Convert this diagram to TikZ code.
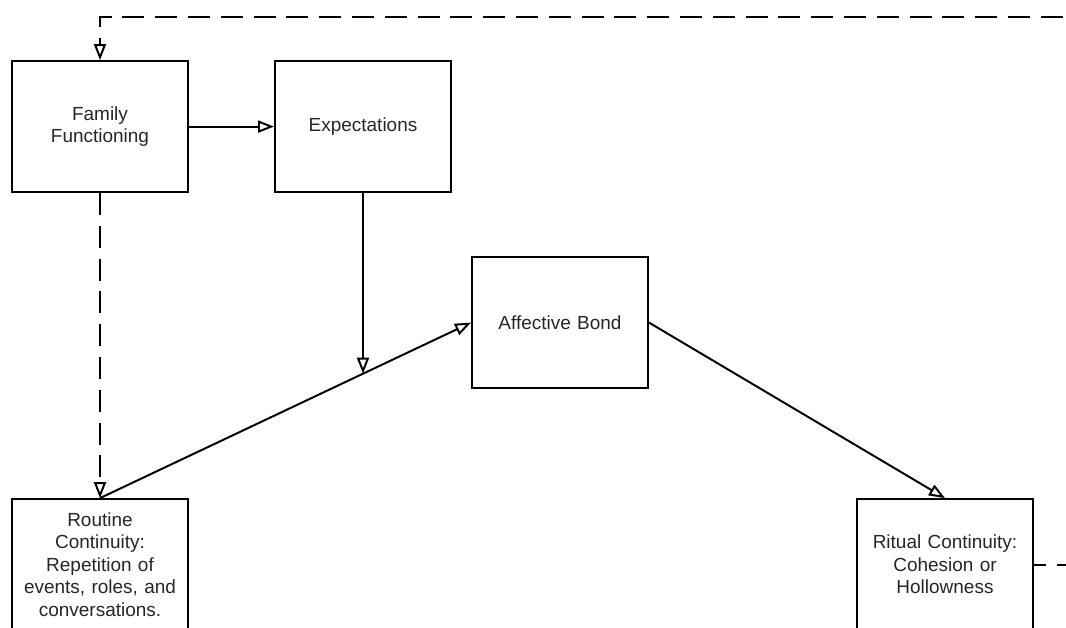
\documentclass[tikz,border=0pt]{standalone}
\usepackage{fontspec}
\setmainfont{Liberation Sans}
\usetikzlibrary{positioning,arrows.meta}

\begin{document}
\begin{tikzpicture}[node distance=2cm,on grid,
    block/.style={draw,line width=1.4pt,rectangle,align=center,text width=4cm,
        inner xsep=0.2cm,inner ysep=0pt,minimum height=3.275cm,
        font=\fontsize{13.5}{16}\selectfont,text=black!85},
    link/.style={line width=1.4pt,-{Triangle[open,length=0.4cm,width=0.3cm]}},
    feedback/.style={link,dash pattern=on 0.55cm off 0.27cm}]
    \useasboundingbox (0,0) rectangle (26.65,15.675);
    \clip (0,0) rectangle (26.65,15.675);

        \node[block] (fam) at (2.5,12.51) {Family\\Functioning};
        \node[block] (exp) [right=6.575cm of fam] {Expectations};
        \node[block] (aff) [below right=4.9cm and 4.925cm of exp] {Affective Bond};
        \node[block] (rout) [below=10.95cm of fam] {Routine\\Continuity:\\Repetition of\\events, roles, and\\conversations.};
        \node[block] (rit) [right=21.125cm of rout] {Ritual Continuity:\\Cohesion or\\Hollowness};

        \coordinate (meet) at (intersection of exp.south--exp.north and rout.north--aff.west);
        \coordinate (back) at ([xshift=2cm]rit.east);
        \coordinate (top) at (2.5,15.25);

        \draw[link] (fam) -- (exp);
        \draw[link] (rout.north) -- (aff.west);
        \draw[link] (exp) -- (meet);
        \draw[link] (aff.east) -- (rit.north);
        \draw[feedback] (fam) -- (rout);
        \draw[feedback,dash phase=0.25cm] (rit.east) -- (back) |- (top) -- (fam);

\end{tikzpicture}
\end{document}
